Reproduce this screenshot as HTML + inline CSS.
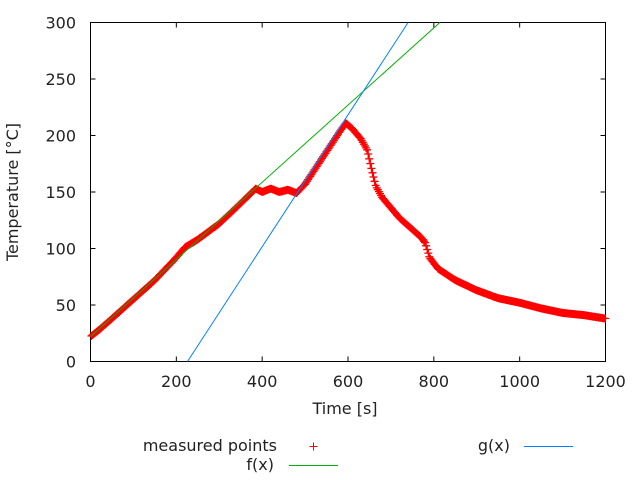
<!DOCTYPE html>
<html><head><meta charset="utf-8"><style>
html,body{margin:0;padding:0;background:#fff;}
svg{display:block;font-family:"DejaVu Sans","Liberation Sans",sans-serif;font-size:16px;}
</style></head><body>
<svg id="s" width="640" height="480" xmlns="http://www.w3.org/2000/svg">
<g id="ticks" stroke="#000" stroke-width="1"></g>
<rect x="90.5" y="22.5" width="515" height="339" fill="none" stroke="#000"/>
<g id="lab" fill="#222"></g>
<text x="345" y="414" text-anchor="middle" fill="#222">Time [s]</text>
<text transform="translate(18,192) rotate(-90)" text-anchor="middle" fill="#222">Temperature [°C]</text>
<path id="pts" fill="none" stroke="#f00" stroke-width="1.3"/>
<path id="f" fill="none" stroke="#00b000" stroke-width="1"/>
<path id="g" fill="none" stroke="#0080ff" stroke-width="1"/>
<text x="277" y="451" text-anchor="end" fill="#222">measured points</text>
<path d="M309.5 446.5h8M313.5 442.5v8" stroke="#f00"/>
<text x="274" y="470" text-anchor="end" fill="#222">f(x)</text>
<path d="M289 465.5h49" stroke="#00b000"/>
<text x="510" y="451" text-anchor="end" fill="#222">g(x)</text>
<path d="M524 446.5h49" stroke="#0080ff"/>
</svg>
<script>
var X=function(t){return 90.5+t*515/1200},Y=function(v){return 361.5-v*339/300};
var tk=document.getElementById('ticks'),lb=document.getElementById('lab'),d='',L='';
for(var v=0;v<=300;v+=50){var y=Y(v);d+='M90.5 '+y+'h5M605.5 '+y+'h-5';L+='<text x="76" y="'+(y+6)+'" text-anchor="end">'+v+'</text>';}
for(var t=0;t<=1200;t+=200){var x=X(t);d+='M'+x+' 361.5v-5M'+x+' 22.5v5';L+='<text x="'+x+'" y="387" text-anchor="middle">'+t+'</text>';}
tk.innerHTML='<path d="'+d+'"/>';lb.innerHTML=L;
var K=[[0,22],[20,28],[50,38],[100,55],[150,72],[200,92],[220,101],[250,108],[300,122],[350,140],[385,153],[400,150],[420,153],[440,150],[460,152],[480,149],[500,157],[540,180],[580,203],[595,211],[610,206],[630,197],[645,187],[655,170],[665,155],[680,145],[720,127],[770,110],[780,105],[790,92],[810,82],[850,72],[900,63],[950,56],[1000,52],[1050,47],[1100,43],[1150,41],[1200,38]];
function f(t){for(var i=1;i<K.length;i++)if(t<=K[i][0]){var a=K[i-1],b=K[i];return a[1]+(b[1]-a[1])*(t-a[0])/(b[0]-a[0]);}return 38;}
var p='';for(var t=2;t<=1200;t+=2.5){var x=X(t),y=Y(f(t));p+='M'+(x-4).toFixed(1)+' '+y.toFixed(1)+'h8M'+x.toFixed(1)+' '+(y-4).toFixed(1)+'v8';}
document.getElementById('pts').setAttribute('d',p);
document.getElementById('f').setAttribute('d','M'+X(0)+' '+Y(22)+'L'+X(814)+' '+Y(300));
document.getElementById('g').setAttribute('d','M'+X(226)+' '+Y(0)+'L'+X(740)+' '+Y(300));
</script>
</body></html>
